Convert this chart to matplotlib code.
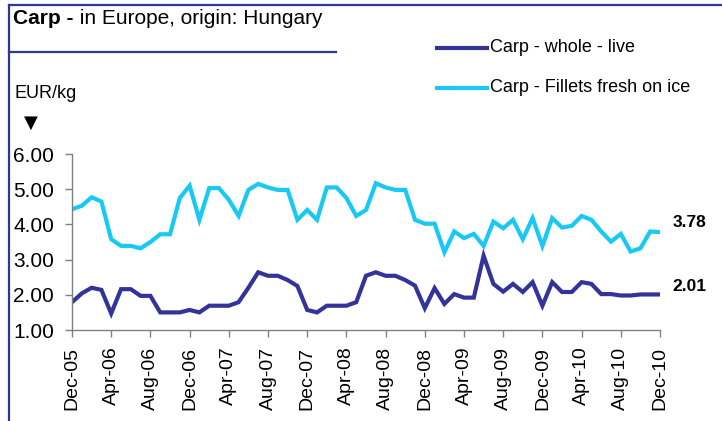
import matplotlib
matplotlib.use('Agg')

import matplotlib.pyplot as plt
from matplotlib.lines import Line2D
import numpy as np

plt.rcParams['font.family'] = ['Liberation Sans', 'DejaVu Sans']

# monthly prices, Dec-05 .. Dec-10 (EUR/kg)
whole_live = [1.79, 2.04, 2.20, 2.14, 1.47, 2.16, 2.16, 1.97, 1.97, 1.50,
              1.50, 1.50, 1.57, 1.50, 1.69, 1.69, 1.69, 1.79, 2.20, 2.64,
              2.54, 2.54, 2.42, 2.25, 1.57, 1.50, 1.69, 1.69, 1.69, 1.79,
              2.54, 2.64, 2.54, 2.54, 2.42, 2.26, 1.62, 2.19, 1.74, 2.02,
              1.92, 1.92, 3.11, 2.31, 2.09, 2.31, 2.08, 2.36, 1.69, 2.36,
              2.08, 2.08, 2.36, 2.31, 2.02, 2.02, 1.98, 1.98, 2.01, 2.01, 2.01]
fillets = [4.43, 4.53, 4.77, 4.65, 3.58, 3.39, 3.39, 3.32, 3.50, 3.72,
           3.72, 4.75, 5.10, 4.13, 5.03, 5.03, 4.70, 4.24, 4.98, 5.15,
           5.05, 4.98, 4.98, 4.13, 4.41, 4.13, 5.05, 5.05, 4.75, 4.24,
           4.41, 5.17, 5.05, 4.98, 4.98, 4.13, 4.02, 4.02, 3.21, 3.80,
           3.61, 3.73, 3.39, 4.08, 3.89, 4.13, 3.58, 4.18, 3.39, 4.18,
           3.91, 3.96, 4.24, 4.13, 3.80, 3.51, 3.73, 3.23, 3.32, 3.80, 3.78]
tick_labels = ['Dec-05', 'Apr-06', 'Aug-06', 'Dec-06', 'Apr-07', 'Aug-07',
               'Dec-07', 'Apr-08', 'Aug-08', 'Dec-08', 'Apr-09', 'Aug-09',
               'Dec-09', 'Apr-10', 'Aug-10', 'Dec-10']
series_names = ['Carp - whole - live', 'Carp - Fillets fresh on ice']

DARK = '#333399'
LIGHT = '#18C8F5'
GREY = '#808080'

W, H = 722, 421


def fx(px):
    return px / W


def fy(py):
    return 1 - py / H


fig = plt.figure(figsize=(W / 100, H / 100), dpi=100)
fig.patch.set_facecolor('white')

ax = fig.add_axes([fx(72), fy(330), fx(660) - fx(72), fy(154) - fy(330)])
months = np.arange(len(whole_live))
ax.plot(months, whole_live, color=DARK, lw=3, solid_joinstyle='miter')
ax.plot(months, fillets, color=LIGHT, lw=3, solid_joinstyle='miter')

ax.set_xlim(0, len(months) - 1)
ax.set_ylim(1, 6)
yticks = np.arange(1, 6.01, 1)
ax.set_yticks(yticks)
ax.set_yticklabels([f'{v:.2f}' for v in yticks], fontsize=15)
ax.set_xticks(months[::4])
ax.set_xticklabels(tick_labels, rotation=90, fontsize=14)
ax.tick_params(axis='both', color=GREY, length=5, width=1, direction='out')
ax.tick_params(axis='x', pad=7)
ax.tick_params(axis='y', pad=8)
for side in ['top', 'right']:
    ax.spines[side].set_visible(False)
for side in ['left', 'bottom']:
    ax.spines[side].set_color(GREY)
    ax.spines[side].set_linewidth(1)

# end-value labels
for vals, dy in [(fillets, 7), (whole_live, 6)]:
    ax.annotate(f'{vals[-1]:.2f}', xy=(months[-1], vals[-1]),
                xytext=(9, dy), textcoords='offset points',
                fontsize=12.5, fontweight='bold', va='center', ha='left')

# frame and title
fig.add_artist(Line2D([fx(9), 1], [fy(5), fy(5)], color=DARK, lw=1.6))
fig.add_artist(Line2D([fx(9), fx(9)], [fy(5), 0], color=DARK, lw=1.6))
fig.add_artist(Line2D([fx(9), fx(336)], [fy(52), fy(52)], color=DARK, lw=1.6))
t1 = fig.text(fx(13), fy(19), 'Carp -', fontsize=15, fontweight='bold',
              va='center', ha='left')
ax.annotate(' in Europe, origin: Hungary', xy=(1, 0.5), xycoords=t1,
            va='center', ha='left', fontsize=15, annotation_clip=False)

fig.text(fx(15), fy(93), 'EUR/kg', fontsize=13, va='center', ha='left')
fig.text(fx(31), fy(123), '\u25BC', fontsize=13, va='center', ha='center',
         family='DejaVu Sans')

# legend
for (py, col, name) in [(48, DARK, series_names[0]), (88, LIGHT, series_names[1])]:
    fig.add_artist(Line2D([fx(437), fx(487)], [fy(py), fy(py)], color=col, lw=3))
    fig.text(fx(490), fy(py), name, fontsize=13, va='center', ha='left')

fig.savefig('out.png', dpi=100)
